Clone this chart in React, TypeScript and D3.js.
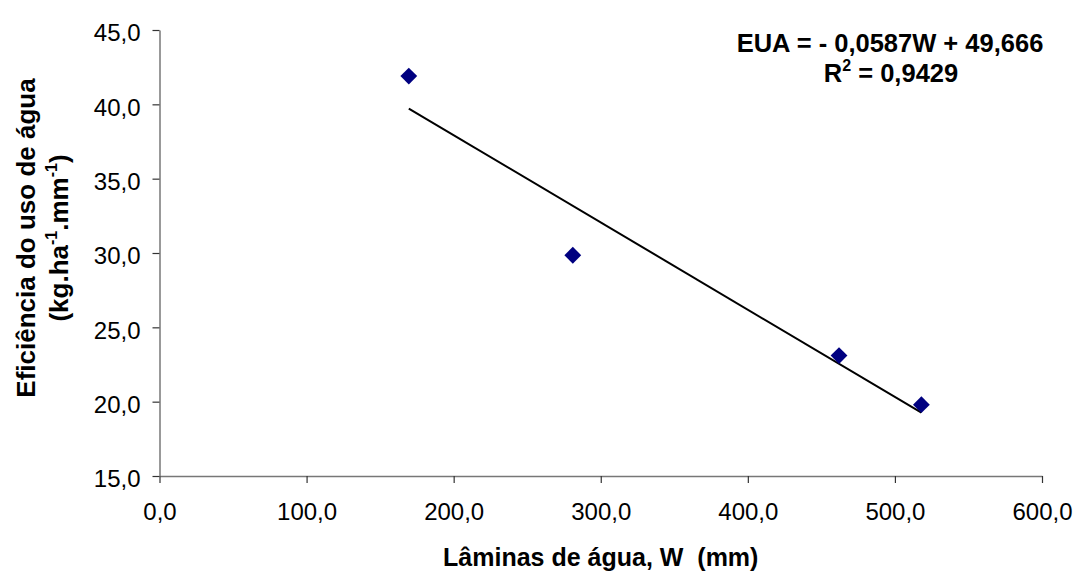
import { useEffect, useRef } from 'react';
import * as d3 from 'd3';

const laminas = [169.5, 281, 462, 518];
const eficiencia = [41.9, 29.85, 23.1, 19.8];
const xTicks = [0, 100, 200, 300, 400, 500, 600];
const yTicks = [15, 20, 25, 30, 35, 40, 45];
const slope = -0.0587;
const intercept = 49.666;
const trendRange = [169.5, 518];

const fmt = (v: number) => v.toFixed(1).replace('.', ',');

export default function App() {
    const svgRef = useRef<SVGSVGElement>(null);

    useEffect(() => {
        const svg = d3.select(svgRef.current);
        svg.selectAll('*').remove();

        const width = 1086;
        const height = 582;
        const margin = { top: 30, right: 44, bottom: 106, left: 159.5 };
        const font = 'Liberation Sans, Arial, sans-serif';

        svg.attr('width', width).attr('height', height);

        // scales
        const x = d3.scaleLinear().domain([0, 600]).range([margin.left, width - margin.right]);
        const y = d3.scaleLinear().domain([15, 45]).range([height - margin.bottom, margin.top]);

        // axes
        const xAxis = svg.append('g')
            .attr('transform', `translate(0,${y(15)})`)
            .call(d3.axisBottom(x).tickValues(xTicks).tickFormat((d) => fmt(+d)).tickSize(7).tickPadding(20).tickSizeOuter(0));
        const yAxis = svg.append('g')
            .attr('transform', `translate(${x(0)},0)`)
            .call(d3.axisLeft(y).tickValues(yTicks).tickFormat((d) => fmt(+d)).tickSize(7).tickPadding(12).tickSizeOuter(0));

        [xAxis, yAxis].forEach((g) => {
            g.select('.domain').attr('stroke', '#777').attr('stroke-width', 1.5);
            g.selectAll('.tick line').attr('stroke', '#333').attr('stroke-width', 1.2);
            g.selectAll('.tick text')
                .attr('fill', '#000')
                .style('font-family', font)
                .style('font-size', '24px');
        });
        yAxis.selectAll('.tick text').attr('dy', '0.45em');

        // trend line
        const line = d3.line<number>()
            .x((d) => x(d))
            .y((d) => y(slope * d + intercept));
        svg.append('path')
            .datum(trendRange)
            .attr('d', line)
            .attr('fill', 'none')
            .attr('stroke', '#000')
            .attr('stroke-width', 2);

        // points
        svg.append('g')
            .selectAll('path')
            .data(laminas)
            .join('path')
            .attr('transform', (d, i) => `translate(${x(d)},${y(eficiencia[i])})`)
            .attr('d', d3.symbol(d3.symbolDiamond2, 180)())
            .attr('fill', '#000080');

        // equation
        const eq = svg.append('text')
            .attr('text-anchor', 'middle')
            .style('font-family', font)
            .style('font-size', '25.5px')
            .style('font-weight', 'bold');
        eq.append('tspan').attr('x', 890).attr('y', 52).text('EUA = - 0,0587W + 49,666');
        const r2 = eq.append('tspan').attr('x', 891).attr('y', 82);
        r2.text('R');
        r2.append('tspan').attr('dy', -11).style('font-size', '16px').text('2');
        r2.append('tspan').attr('dy', 11).text(' = 0,9429');

        // x title
        svg.append('text')
            .attr('x', (x(0) + x(600)) / 2)
            .attr('y', 566)
            .attr('text-anchor', 'middle')
            .style('font-family', font)
            .style('font-size', '25px')
            .style('font-weight', 'bold')
            .style('white-space', 'pre')
            .text('Lâminas de água, W  (mm)');

        // y title
        const cy = 238;
        const yt = svg.append('text')
            .attr('transform', `translate(0,${cy}) rotate(-90)`)
            .attr('text-anchor', 'middle')
            .style('font-family', font)
            .style('font-size', '26px')
            .style('font-weight', 'bold');
        yt.append('tspan').attr('x', 0).attr('y', 35).text('Eficiência do uso de água');
        const l2 = yt.append('tspan').attr('x', 0).attr('y', 68);
        l2.append('tspan').text('(kg.ha');
        l2.append('tspan').attr('dy', -11).style('font-size', '16px').text('-1');
        l2.append('tspan').attr('dy', 11).text('.mm');
        l2.append('tspan').attr('dy', -11).style('font-size', '16px').text('-1');
        l2.append('tspan').attr('dy', 11).text(')');
    }, []);

    return <svg ref={svgRef} style={{ position: 'absolute', left: 0, top: 0 }} />;
}
